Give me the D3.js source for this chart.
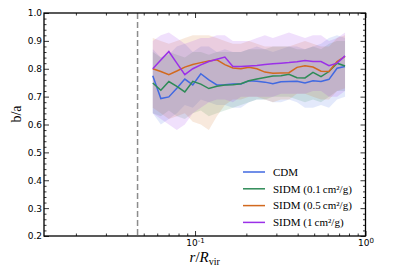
<!DOCTYPE html>
<html>
<head>
<meta charset="utf-8">
<script src="https://cdn.jsdelivr.net/npm/d3@7/dist/d3.min.js"></script>
<style>
  body { margin: 0; background: #fff; }
  .tick text { font-family: "DejaVu Sans", sans-serif; font-size: 9px; fill: #000; }
  .leg { font-family: "Liberation Serif", serif; font-size: 11px; }
</style>
</head>
<body>
<div id="chart"></div>
<script>
// radial bins r/Rvir
const radii = [0.0565, 0.0630, 0.0702, 0.0782, 0.0871, 0.0970, 0.1081, 0.1205, 0.1343, 0.1496, 0.1667, 0.1858, 0.2070,
  0.2307, 0.2570, 0.2864, 0.3192, 0.3556, 0.3963, 0.4416, 0.4920, 0.5483, 0.6109, 0.6808, 0.7586]

// b/a medians
const cdm = [0.775, 0.693, 0.699, 0.730, 0.763, 0.742, 0.782, 0.760, 0.742, 0.743, 0.745, 0.745, 0.757,
  0.755, 0.752, 0.746, 0.753, 0.754, 0.755, 0.749, 0.757, 0.754, 0.762, 0.802, 0.808]
const sidm01 = [0.749, 0.723, 0.754, 0.737, 0.717, 0.755, 0.745, 0.729, 0.737, 0.742, 0.743, 0.746, 0.757,
  0.763, 0.769, 0.774, 0.775, 0.780, 0.768, 0.767, 0.787, 0.772, 0.790, 0.820, 0.810]
const sidm05 = [0.800, 0.790, 0.779, 0.792, 0.806, 0.815, 0.822, 0.828, 0.832, 0.815, 0.803, 0.800, 0.805,
  0.800, 0.788, 0.784, 0.785, 0.786, 0.805, 0.811, 0.806, 0.791, 0.790, 0.826, 0.844]
const sidm1 = [0.800, 0.831, 0.862, 0.820, 0.779, 0.800, 0.814, 0.826, 0.834, 0.842, 0.808, 0.808, 0.810,
  0.812, 0.815, 0.818, 0.820, 0.822, 0.825, 0.830, 0.826, 0.826, 0.811, 0.820, 0.846]

// scatter bands
const cdmHi = [0.87, 0.84, 0.85, 0.88, 0.89, 0.86, 0.88, 0.88, 0.86, 0.87, 0.86, 0.86, 0.87, 0.88, 0.87, 0.86, 0.87, 0.88, 0.88, 0.87, 0.88, 0.89, 0.91, 0.92, 0.91]
const cdmLo = [0.64, 0.60, 0.62, 0.64, 0.67, 0.66, 0.69, 0.68, 0.67, 0.67, 0.66, 0.66, 0.68, 0.69, 0.69, 0.68, 0.68, 0.69, 0.68, 0.66, 0.66, 0.67, 0.66, 0.69, 0.70]
const s01Hi = [0.86, 0.84, 0.86, 0.85, 0.84, 0.86, 0.86, 0.85, 0.86, 0.86, 0.86, 0.86, 0.87, 0.87, 0.87, 0.88, 0.88, 0.88, 0.87, 0.87, 0.88, 0.87, 0.89, 0.90, 0.90]
const s01Lo = [0.64, 0.63, 0.65, 0.63, 0.62, 0.64, 0.65, 0.63, 0.64, 0.65, 0.66, 0.67, 0.68, 0.69, 0.69, 0.70, 0.70, 0.70, 0.69, 0.68, 0.69, 0.68, 0.70, 0.72, 0.72]
const s05Hi = [0.91, 0.90, 0.89, 0.90, 0.91, 0.92, 0.92, 0.92, 0.91, 0.90, 0.89, 0.89, 0.90, 0.89, 0.88, 0.88, 0.88, 0.88, 0.89, 0.90, 0.89, 0.88, 0.88, 0.91, 0.92]
const s05Lo = [0.66, 0.64, 0.62, 0.63, 0.64, 0.61, 0.60, 0.58, 0.63, 0.67, 0.69, 0.69, 0.70, 0.70, 0.69, 0.68, 0.69, 0.69, 0.71, 0.71, 0.70, 0.69, 0.69, 0.72, 0.73]
const s1Hi = [0.90, 0.92, 0.93, 0.91, 0.89, 0.90, 0.91, 0.91, 0.92, 0.92, 0.90, 0.90, 0.90, 0.91, 0.92, 0.91, 0.92, 0.93, 0.92, 0.91, 0.92, 0.92, 0.90, 0.91, 0.93]
const s1Lo = [0.64, 0.62, 0.60, 0.58, 0.60, 0.64, 0.66, 0.68, 0.69, 0.69, 0.68, 0.70, 0.70, 0.70, 0.70, 0.70, 0.71, 0.71, 0.71, 0.71, 0.72, 0.72, 0.70, 0.70, 0.72]

const labels = ["CDM", "SIDM (0.1\u2009cm\u00b2/g)", "SIDM (0.5\u2009cm\u00b2/g)", "SIDM (1\u2009cm\u00b2/g)"]
const colors = ["#4169e1", "#2e8b57", "#d2691e", "#9b30e8"]
const rCut = 0.046

const yTicks = [0.2, 0.3, 0.4, 0.5, 0.6, 0.7, 0.8, 0.9, 1.0]

const series = [
  { name: labels[0], mid: cdm, hi: cdmHi, lo: cdmLo, color: colors[0] },
  { name: labels[1], mid: sidm01, hi: s01Hi, lo: s01Lo, color: colors[1] },
  { name: labels[2], mid: sidm05, hi: s05Hi, lo: s05Lo, color: colors[2] },
  { name: labels[3], mid: sidm1, hi: s1Hi, lo: s1Lo, color: colors[3] }
]

// margenes
const width = 407
const height = 271
const margin = { top: 13, bottom: 35, left: 44, right: 41.5 }

const svg = d3.select("#chart").append("svg").attr("width", width).attr("height", height)

const x = d3.scaleLog().domain([0.013, 1]).range([margin.left, width - margin.right])
const y = d3.scaleLinear().domain([0.2, 1.0]).range([height - margin.bottom, margin.top])

// bandas
const area = d3.area().x((d, i) => x(radii[i])).y0(d => y(d[0])).y1(d => y(d[1]))
series.forEach(s => {
  svg.append("path")
    .datum(s.lo.map((v, i) => [v, s.hi[i]]))
    .attr("d", area)
    .attr("fill", s.color)
    .attr("fill-opacity", 0.15)
})

// linea de corte
svg.append("line")
  .attr("x1", x(rCut)).attr("x2", x(rCut))
  .attr("y1", y(1.0)).attr("y2", y(0.2))
  .attr("stroke", "#8c8c8c").attr("stroke-width", 1.5)
  .attr("stroke-dasharray", "6,3")

// lineas
const line = d3.line().x((d, i) => x(radii[i])).y(d => y(d))
series.forEach(s => {
  svg.append("path")
    .datum(s.mid)
    .attr("d", line)
    .attr("fill", "none")
    .attr("stroke", s.color)
    .attr("stroke-width", 1.5)
})

// ejes
const xMinor = []
for (let dec of [0.01, 0.1]) for (let k = 2; k <= 9; k++) xMinor.push(+(k * dec).toFixed(3))
const xMinorIn = xMinor.filter(v => v >= 0.013 && v <= 1)
const yMinor = d3.range(20, 101, 2).map(v => v / 100).filter(v => !yTicks.some(t => Math.abs(t - v) < 1e-6))

const bottomY = y(0.2)
const topY = y(1.0)
const leftX = x(0.013)
const rightX = x(1)

function drawAxis(gen, tr, vals, size, labelled) {
  const g = svg.append("g").attr("transform", tr)
    .call(gen.tickValues(vals).tickSize(size).tickPadding(4).tickFormat(labelled ? null : ""))
  g.select(".domain").remove()
  g.selectAll(".tick line").attr("stroke", "#000").attr("stroke-width", 0.8)
  return g
}

const xb = drawAxis(d3.axisBottom(x), `translate(0,${bottomY})`, [0.1, 1], -5, true)
xb.selectAll(".tick text").each(function (d) {
  const t = d3.select(this).text("")
  t.attr("font-size", 10).attr("y", 4)
  t.append("tspan").text("10")
  t.append("tspan").attr("dy", "-0.45em").attr("font-size", "7px").text(d === 1 ? "0" : "-1")
})
drawAxis(d3.axisBottom(x), `translate(0,${bottomY})`, xMinorIn, -2.5, false)
drawAxis(d3.axisTop(x), `translate(0,${topY})`, [0.1, 1], -5, false)
drawAxis(d3.axisTop(x), `translate(0,${topY})`, xMinorIn, -2.5, false)

const yl = drawAxis(d3.axisLeft(y), `translate(${leftX},0)`, yTicks, -5, true)
yl.selectAll(".tick text").text(d => d.toFixed(1)).attr("x", -2).attr("font-size", 10)
drawAxis(d3.axisLeft(y), `translate(${leftX},0)`, yMinor, -2.5, false)
drawAxis(d3.axisRight(y), `translate(${rightX},0)`, yTicks, -5, false)
drawAxis(d3.axisRight(y), `translate(${rightX},0)`, yMinor, -2.5, false)

// marco
svg.append("rect")
  .attr("x", leftX).attr("y", topY)
  .attr("width", rightX - leftX).attr("height", bottomY - topY)
  .attr("fill", "none").attr("stroke", "#000").attr("stroke-width", 1.3)

// leyenda
const legend = svg.append("g").attr("class", "leg")
series.forEach((s, i) => {
  const ly = 172 + i * 16.8
  legend.append("line").attr("x1", 243).attr("x2", 265).attr("y1", ly).attr("y2", ly)
    .attr("stroke", s.color).attr("stroke-width", 1.5)
  legend.append("text").attr("x", 273).attr("y", ly + 3.8).text(s.name)
})

// etiquetas
svg.append("text")
  .attr("transform", `translate(21,114) rotate(-90)`)
  .attr("text-anchor", "middle")
  .attr("font-family", "Liberation Serif, serif").attr("font-size", 14)
  .text("b/a")

const xl = svg.append("text")
  .attr("x", (leftX + rightX) / 2).attr("y", 262)
  .attr("text-anchor", "middle")
  .attr("font-family", "Liberation Serif, serif").attr("font-size", 15)
xl.append("tspan").attr("font-style", "italic").text("r")
xl.append("tspan").text("/")
xl.append("tspan").attr("font-style", "italic").text("R")
xl.append("tspan").attr("font-size", 10).attr("dy", 3).text("vir")
</script>
</body>
</html>
